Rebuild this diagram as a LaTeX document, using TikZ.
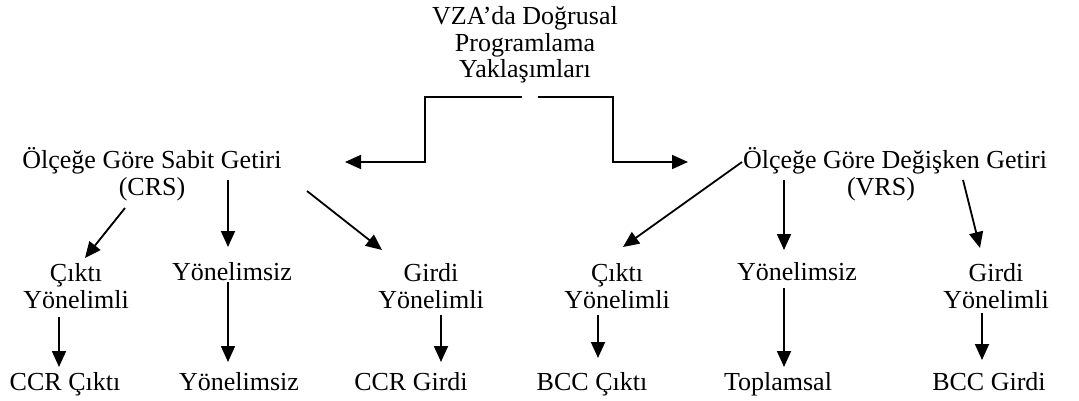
\documentclass[tikz,border=0pt]{standalone}
\usepackage{fontspec}
\setmainfont{Liberation Serif}
\usetikzlibrary{arrows.meta}
\begin{document}
\begin{tikzpicture}[x=1pt,y=-1pt,
  lbl/.style={font=\fontsize{26}{26.5}\selectfont, inner sep=0pt, align=center, anchor=base},
  arr/.style={-{Triangle[length=16pt,width=14pt]}, line width=1.8pt}]
\useasboundingbox (0,0) rectangle (1079,401);
% nodes (base = baseline of the last line)
\node[lbl] (title) at (525,78) {VZA’da Doğrusal\\Programlama\\Yaklaşımları};
\node[lbl] (crs) at (152,195) {Ölçeğe Göre Sabit Getiri\\(CRS)};
\node[lbl] (vrs) at (895,195) {Ölçeğe Göre Değişken Getiri\\(VRS)\hspace*{28pt}};
\node[lbl] (c1) at (76,308) {Çıktı\\Yönelimli};
\node[lbl] (y1) at (232,280) {Yönelimsiz};
\node[lbl] (g1) at (431,308) {Girdi\\Yönelimli};
\node[lbl] (c2) at (617,308) {Çıktı\\Yönelimli};
\node[lbl] (y2) at (797,280) {Yönelimsiz};
\node[lbl] (g2) at (996,308) {Girdi\\Yönelimli};
\node[lbl] (r1) at (65,390) {CCR Çıktı};
\node[lbl] (r2) at (239,390) {Yönelimsiz};
\node[lbl] (r3) at (411,390) {CCR Girdi};
\node[lbl] (r4) at (592,390) {BCC Çıktı};
\node[lbl] (r5) at (778,390) {Toplamsal};
\node[lbl] (r6) at (989,390) {BCC Girdi};
% connectors
\draw[arr] ([shift={(-3,19)}]title.base) -| ([shift={(273,-33)}]crs.base) -- ([shift={(193,-33)}]crs.base);
\draw[arr] ([shift={(13,19)}]title.base) -| ([shift={(-282,-33)}]vrs.base) -- ([shift={(-207,-33)}]vrs.base);
\draw[arr] ([shift={(-27,13)}]crs.base) -- ([shift={(9,-50)}]c1.base);
\draw[arr] ([shift={(76,-15)}]crs.base) -- ([shift={(-4,-33)}]y1.base);
\draw[arr] ([shift={(155,-4)}]crs.base) -- ([shift={(-49,-58)}]g1.base);
\draw[arr] ([shift={(-17,9)}]c1.base) -- ([shift={(-6,-23)}]r1.base);
\draw[arr] ([shift={(-4,2)}]y1.base) -- ([shift={(-11,-28)}]r2.base);
\draw[arr] ([shift={(10,7)}]g1.base) -- ([shift={(30,-28)}]r3.base);
\draw[arr] ([shift={(-153,-33)}]vrs.base) -- ([shift={(6,-61)}]c2.base);
\draw[arr] ([shift={(-111,-15)}]vrs.base) -- ([shift={(-13,-30)}]y2.base);
\draw[arr] ([shift={(68,-15)}]vrs.base) -- ([shift={(-16,-60)}]g2.base);
\draw[arr] ([shift={(-19,7)}]c2.base) -- ([shift={(6,-32)}]r4.base);
\draw[arr] ([shift={(-13,8)}]y2.base) -- ([shift={(6,-23)}]r5.base);
\draw[arr] ([shift={(-14,5)}]g2.base) -- ([shift={(-7,-30)}]r6.base);
\end{tikzpicture}
\end{document}
